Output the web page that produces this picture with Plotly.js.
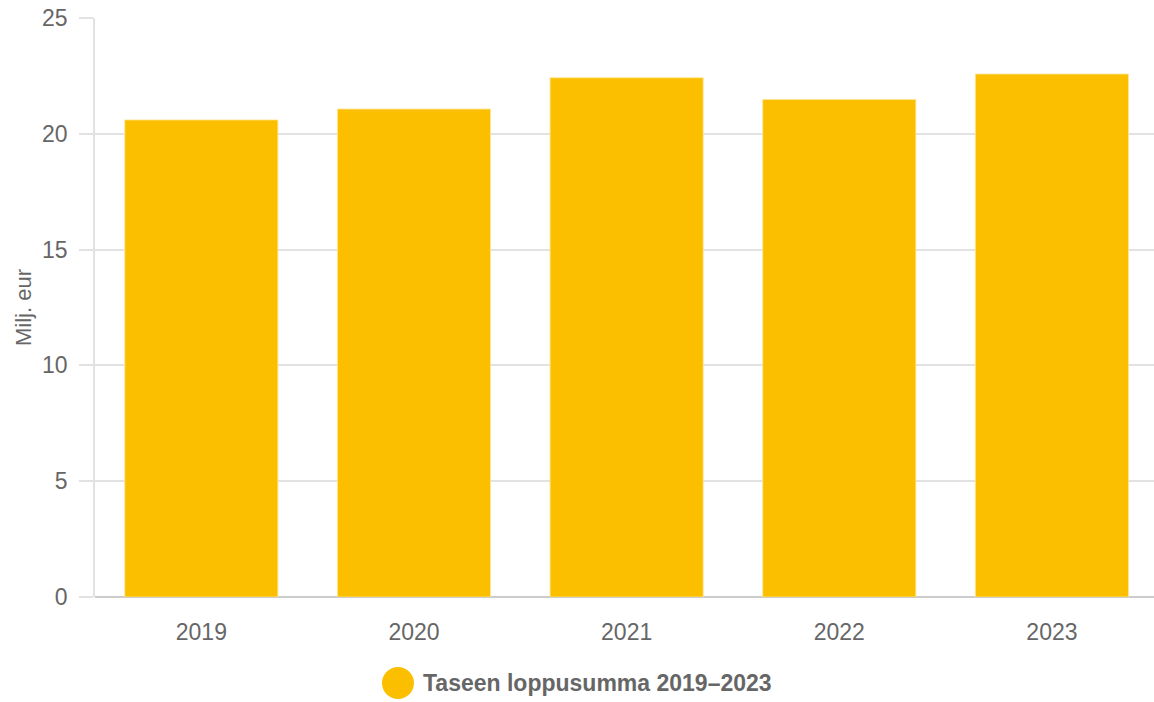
<!DOCTYPE html>
<html>
<head>
<meta charset="utf-8">
<script src="https://cdn.plot.ly/plotly-3.0.1.min.js"></script>
<style>html,body{margin:0;padding:0;background:#fff;}#chart{width:1154px;height:702px;}</style>
</head>
<body>
<div id="chart"></div>
<script>
const years = ["2019", "2020", "2021", "2022", "2023"];
const totals = [20.6, 21.07, 22.42, 21.48, 22.58];
const seriesName = "Taseen loppusumma 2019–2023";
const yTitle = "Milj. eur";
const yTicks = [0, 5, 10, 15, 20, 25];

const barColor = "#FBBF00";
const textColor = "#666666";
const font = "Liberation Sans, Arial, Helvetica, sans-serif";

const trace = {
  type: "bar",
  x: years,
  y: totals,
  name: seriesName,
  marker: {color: barColor, line: {color: "rgba(255,230,150,0.8)", width: 1}},
  width: 0.72,
  showlegend: false,
  hoverinfo: "x+y"
};

const layout = {
  width: 1154,
  height: 702,
  margin: {l: 95, r: 0, t: 18, b: 105},
  paper_bgcolor: "#ffffff",
  plot_bgcolor: "#ffffff",
  font: {family: font, color: textColor, size: 23},
  bargap: 0.28,
  xaxis: {
    type: "category",
    range: [-0.5, 4.48],
    showgrid: false,
    showline: false,
    ticks: "",
    ticklabelstandoff: 19,
    tickfont: {size: 23, color: textColor}
  },
  yaxis: {
    range: [0, 25],
    tickvals: yTicks,
    showgrid: true,
    gridcolor: "#e2e2e2",
    gridwidth: 1.5,
    zeroline: true,
    zerolinecolor: "#cccccc",
    zerolinewidth: 2,
    showline: true,
    linecolor: "#e2e2e2",
    linewidth: 1.5,
    ticks: "outside",
    ticklen: 14,
    tickcolor: "#e2e2e2",
    tickwidth: 1.5,
    ticklabelstandoff: 7,
    tickfont: {size: 23, color: textColor},
    title: {text: yTitle, font: {size: 22, color: textColor}, standoff: 4},
    automargin: false
  },
  shapes: [{
    type: "circle",
    xref: "paper", yref: "paper",
    xsizemode: "pixel", ysizemode: "pixel",
    xanchor: 0.2861, yanchor: -0.1485,
    x0: -16, x1: 16, y0: -16, y1: 16,
    fillcolor: barColor,
    line: {width: 0}
  }],
  annotations: [{
    xref: "paper", yref: "paper",
    x: 0.3080, y: -0.1485,
    xanchor: "left", yanchor: "middle",
    showarrow: false,
    text: "<b>" + seriesName + "</b>",
    font: {size: 23, color: textColor, family: font}
  }]
};

Plotly.newPlot("chart", [trace], layout, {displayModeBar: false, staticPlot: false});
</script>
</body>
</html>
